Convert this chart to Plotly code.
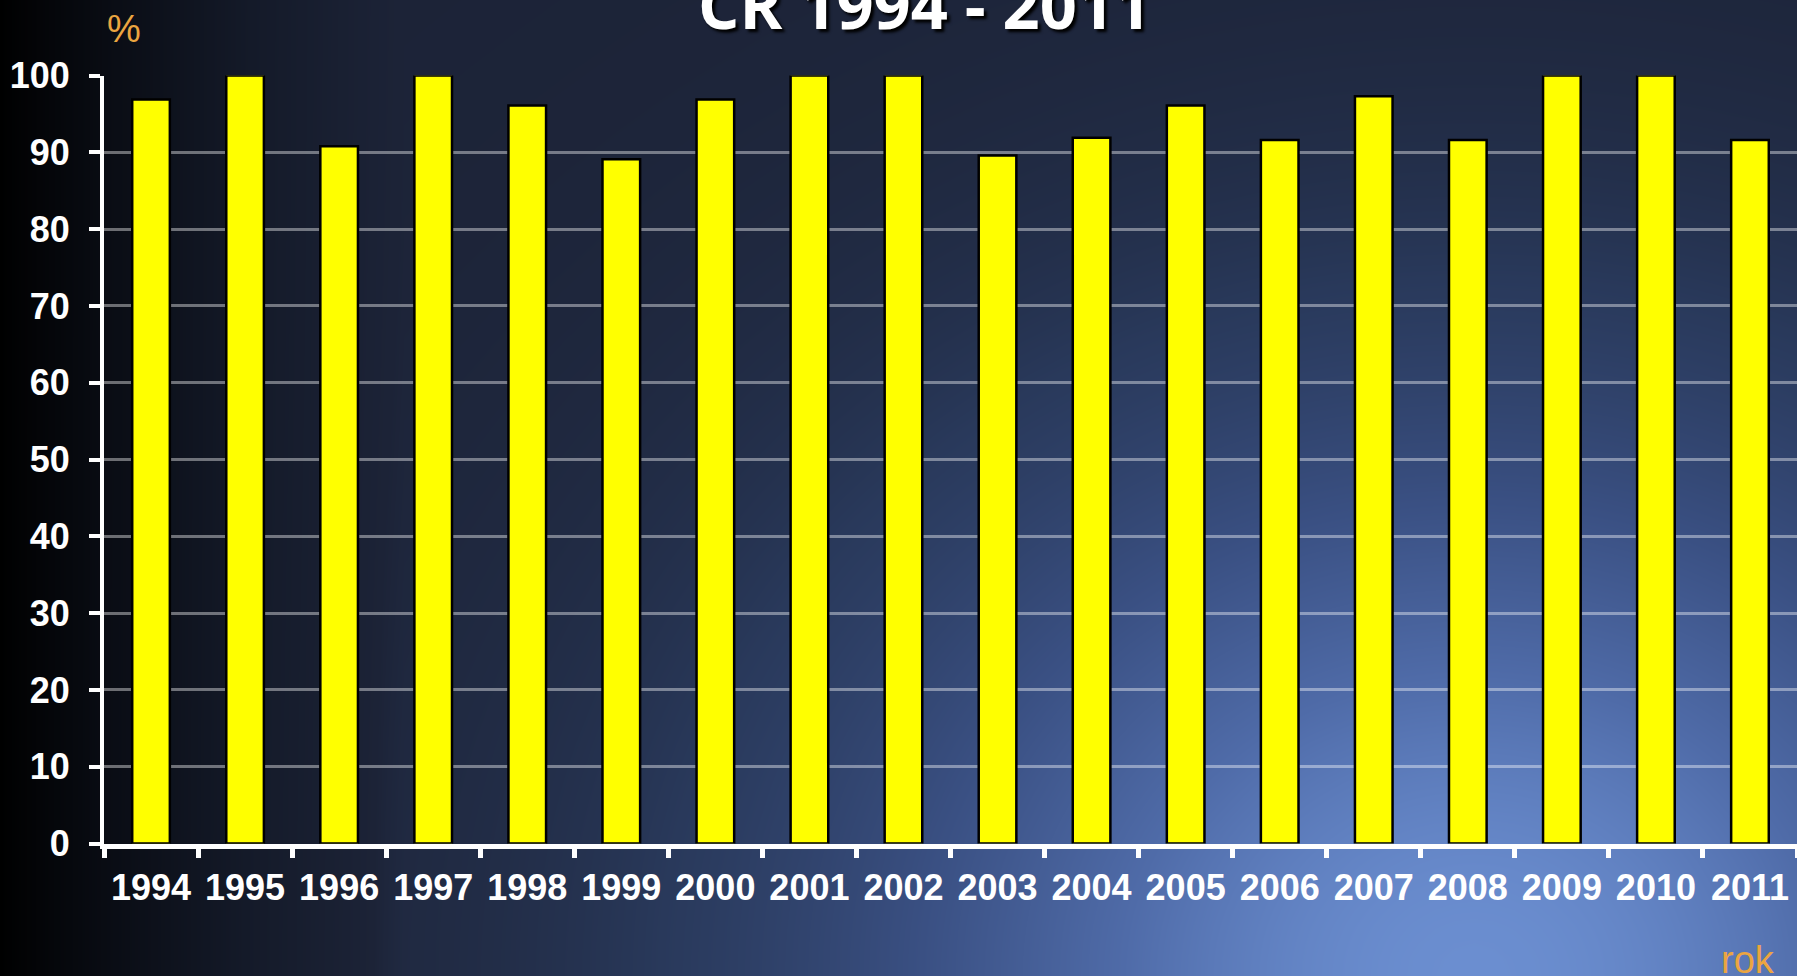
import numpy as np
import plotly.graph_objects as go

# ---- data ----
years = [str(y) for y in range(1994, 2012)]
values = [96.9, 100, 90.8, 100, 96.1, 89.1, 96.9, 100, 100, 89.6,
          91.9, 96.1, 91.6, 97.3, 91.6, 100, 100, 91.6]
y_ticks = list(range(0, 101, 10))
title_text = "CR 1994 - 2011"
y_unit = "%"
x_unit = "rok"

W, H = 1797, 976

# ---- background gradient (style only) ----
gx = np.linspace(0, 1, 90)
gy = np.linspace(0, 1, 60)
GX, GY = np.meshgrid(gx, gy)
h = np.minimum(1.0, GX / 0.22)
base = 0.45 * h ** 0.9
glow = 0.55 * np.exp(-(((GX - 0.82) ** 2) / 0.12 + (GY ** 2) / 0.30)) * h
B = np.clip(base + glow, 0, 1)
cscale = [
    [0.00, "#000000"],
    [0.15, "#0a0d15"],
    [0.30, "#141a29"],
    [0.45, "#1c2337"],
    [0.55, "#29395b"],
    [0.70, "#3a5083"],
    [0.85, "#4f6ba8"],
    [1.00, "#6b8ed0"],
]

fig = go.Figure()
fig.add_trace(go.Heatmap(x=gx, y=gy, z=B, colorscale=cscale, zmin=0, zmax=1,
                         zsmooth="best", showscale=False, hoverinfo="skip",
                         xaxis="x", yaxis="y"))

fig.add_trace(go.Bar(x=years, y=values, xaxis="x2", yaxis="y2",
                     marker=dict(color="#FFFF00", line=dict(color="#000000", width=2.5)),
                     hoverinfo="x+y"))

left = 104
bottom = 843.5
top = 75.6

font_fam = "Liberation Sans, Arial, sans-serif"

fig.update_layout(
    width=W, height=H, autosize=False,
    margin=dict(l=0, r=0, t=0, b=0, autoexpand=False),
    paper_bgcolor="#000000",
    plot_bgcolor="rgba(0,0,0,0)",
    showlegend=False,
    bargap=0.6,
    xaxis=dict(domain=[0, 1], range=[0, 1], visible=False, fixedrange=True, automargin=False),
    yaxis=dict(domain=[0, 1], range=[0, 1], visible=False, fixedrange=True, automargin=False),
    xaxis2=dict(domain=[left / W, 1.0], anchor="y2", type="category", automargin=False,
                showline=True, linecolor="#ffffff", linewidth=5,
                ticks="outside", tickson="boundaries", ticklen=9, tickwidth=5,
                tickcolor="#ffffff", showgrid=False,
                tickfont=dict(family=font_fam, size=36, color="#ffffff", weight="bold"),
                ticklabelstandoff=8),
    yaxis2=dict(domain=[(H - bottom) / H, (H - top) / H], anchor="x2", automargin=False,
                range=[0, 100], tickvals=y_ticks,
                showline=True, linecolor="#ffffff", linewidth=4,
                ticks="outside", ticklen=11, tickwidth=4, tickcolor="#ffffff",
                showgrid=True, gridcolor="rgba(255,255,255,0.4)", gridwidth=2.5,
                zeroline=False,
                tickfont=dict(family=font_fam, size=36, color="#ffffff", weight="bold"),
                ticklabelstandoff=12),
    annotations=[
        dict(text=title_text, xref="x", yref="y", x=924 / W, y=1 - 4 / H,
             xanchor="center", yanchor="middle", showarrow=False,
             font=dict(family="Open Sans, sans-serif", size=65, color="#ffffff", weight="bold",
                       shadow="3px 3px 3px #000000")),
        dict(text=y_unit, xref="x", yref="y", x=124 / W, y=1 - 29 / H,
             xanchor="center", yanchor="middle", showarrow=False,
             font=dict(family=font_fam, size=38, color="#EBA540")),
        dict(text=x_unit, xref="x", yref="y", x=1748 / W, y=1 - 960 / H,
             xanchor="center", yanchor="middle", showarrow=False,
             font=dict(family=font_fam, size=38, color="#EBA540")),
    ],
)

fig.write_html("out.html", config={"displayModeBar": False},
               post_script="document.body.style.margin='0';document.body.style.overflow='hidden';")
